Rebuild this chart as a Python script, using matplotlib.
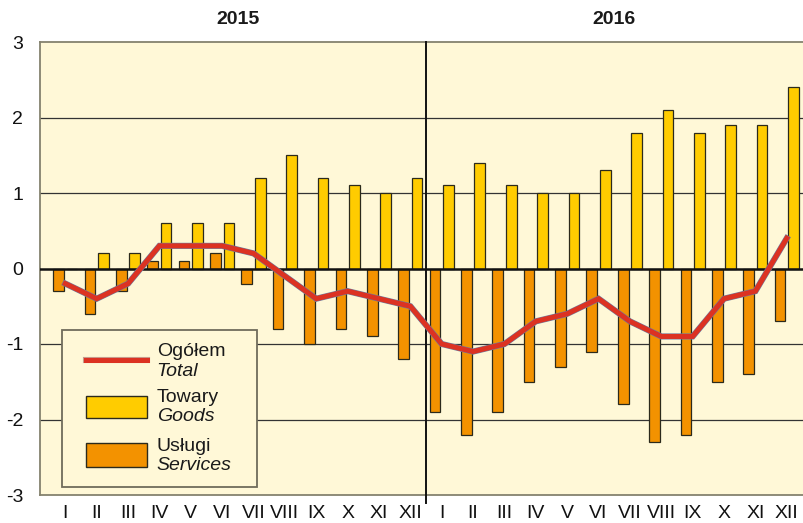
import matplotlib
matplotlib.use("Agg")
import matplotlib.pyplot as plt
import matplotlib.patheffects as pe
import matplotlib.transforms as mtransforms
from matplotlib.patches import Rectangle
from matplotlib.lines import Line2D
import numpy as np

plt.rcParams["font.family"] = ["Liberation Sans", "DejaVu Sans"]

months = ["I", "II", "III", "IV", "V", "VI", "VII", "VIII", "IX", "X", "XI", "XII"]
years = ["2015", "2016"]

goods = [0.0, 0.2, 0.2, 0.6, 0.6, 0.6, 1.2, 1.5, 1.2, 1.1, 1.0, 1.2,
         1.1, 1.4, 1.1, 1.0, 1.0, 1.3, 1.8, 2.1, 1.8, 1.9, 1.9, 2.4]
services = [-0.3, -0.6, -0.3, 0.1, 0.1, 0.2, -0.2, -0.8, -1.0, -0.8, -0.9, -1.2,
            -1.9, -2.2, -1.9, -1.5, -1.3, -1.1, -1.8, -2.3, -2.2, -1.5, -1.4, -0.7]
total = [-0.2, -0.4, -0.2, 0.3, 0.3, 0.3, 0.2, -0.1, -0.4, -0.3, -0.4, -0.5,
         -1.0, -1.1, -1.0, -0.7, -0.6, -0.4, -0.7, -0.9, -0.9, -0.4, -0.3, 0.4]

BG = "#fff8d7"
GOODS_C = "#ffcc00"
SERV_C = "#f39200"
LINE_C = "#dc3222"
EDGE = "#2b2a1c"
BORDER = "#85826e"

fig = plt.figure(figsize=(8.04, 5.23), dpi=100)
ax = fig.add_axes([40 / 804, 28 / 523, 1 - 40 / 804, 453 / 523])
ax.set_facecolor(BG)

x = np.arange(len(goods))
off, w = 0.215, 0.34

for yv in [-2, -1, 1, 2]:
    ax.axhline(yv, color="#333333", lw=0.9, zorder=1)

ax.bar(x - off, services, width=w, color=SERV_C, edgecolor=EDGE, lw=0.9, zorder=2)
ax.bar(x + off, goods, width=w, color=GOODS_C, edgecolor=EDGE, lw=0.9, zorder=2)
ax.axhline(0, color="#111111", lw=1.8, zorder=3)

ax.plot(x, total, color=LINE_C, lw=3.6, zorder=4, solid_joinstyle="miter",
        path_effects=[pe.Stroke(linewidth=4.4, foreground="#6d7ba0"), pe.Normal()])

ax.axvline(11.5, ymin=-0.018, ymax=1, color="#111111", lw=1.4, zorder=3, clip_on=False)

ax.set_xlim(-0.807, 23.55)
ax.set_ylim(-3, 3)
ax.set_yticks([3, 2, 1, 0, -1, -2, -3])
ax.set_yticklabels(["3", "2", "1", "0", "-1", "-2", "-3"])
ax.set_xticks(x)
ax.set_xticklabels(months * 2)
ax.tick_params(axis="both", length=0, labelsize=14, colors="#111111")
ax.tick_params(axis="y", pad=12)
ax.tick_params(axis="x", pad=7)

for side in ["left", "top", "bottom"]:
    ax.spines[side].set_color(BORDER)
    ax.spines[side].set_linewidth(1.3)
ax.spines["right"].set_visible(False)

# year headers
trans = mtransforms.blended_transform_factory(ax.transData, fig.transFigure)
for i, yr in enumerate(years):
    ax.text(5.5 + 12 * i, 1 - 19.5 / 523, yr, transform=trans, ha="center", va="center",
            fontsize=14, fontweight="bold", color="#1a1a1a")

# legend
T = ax.transAxes
ax.add_patch(Rectangle((0.0288, 0.0177), 0.2552, 0.3463, transform=T, facecolor=BG,
                       edgecolor="#6f6c5c", lw=1.3, zorder=6))
ax.add_line(Line2D([0.0602, 0.140], [0.298, 0.298], transform=T, color=LINE_C, lw=3.6,
                   zorder=7, path_effects=[pe.Stroke(linewidth=4.4, foreground="#c89a8a"), pe.Normal()]))
ax.add_patch(Rectangle((0.0602, 0.170), 0.0798, 0.049, transform=T, facecolor=GOODS_C,
                       edgecolor=EDGE, lw=1.0, zorder=7))
ax.add_patch(Rectangle((0.0602, 0.0618), 0.0798, 0.053, transform=T, facecolor=SERV_C,
                       edgecolor=EDGE, lw=1.0, zorder=7))
leg_text = [("Ogółem", 0.3163, "normal"), ("Total", 0.272, "italic"),
            ("Towary", 0.2148, "normal"), ("Goods", 0.1728, "italic"),
            ("Usługi", 0.108, "normal"), ("Services", 0.0662, "italic")]
for s, yy, st in leg_text:
    ax.text(0.1527, yy, s, transform=T, ha="left", va="center", fontsize=14,
            style=st, color="#1a1a1a", zorder=8)

fig.savefig("out.png", dpi=100, facecolor="white")
